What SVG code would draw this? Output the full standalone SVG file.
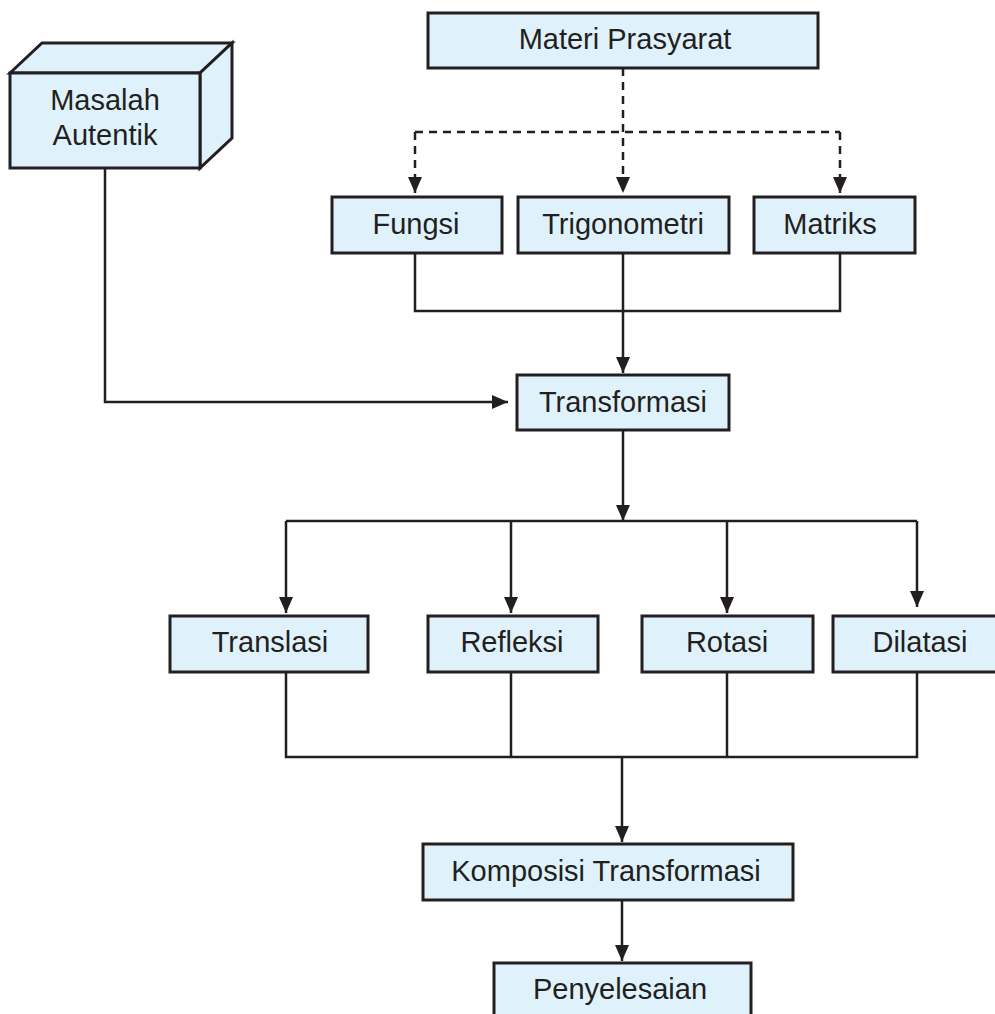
<svg xmlns="http://www.w3.org/2000/svg" width="995" height="1014" viewBox="0 0 995 1014">
<style>
.box{fill:#dff2fb;stroke:#231f20;stroke-width:3}
.t{font-family:"Liberation Sans",Arial,sans-serif;font-size:29px;fill:#231f20;text-anchor:middle}
.c{fill:none;stroke:#231f20;stroke-width:2.5}
.d{stroke-dasharray:8 6}
</style>
<defs>
<marker id="ah" markerUnits="userSpaceOnUse" markerWidth="16" markerHeight="14" viewBox="0 0 16 14" refX="16" refY="7" orient="auto">
<path d="M0,0 L16,7 L0,14 Z" fill="#231f20"/>
</marker>
</defs>
<rect width="995" height="1014" fill="#fff"/>
<g id="connectors">
<path class="c d" d="M623,68 V193" marker-end="url(#ah)"/>
<path class="c d" d="M415,132 H840"/>
<path class="c d" d="M415,132 V193" marker-end="url(#ah)"/>
<path class="c d" d="M840,132 V193" marker-end="url(#ah)"/>
<path class="c" d="M415,252 V311 H840 V252"/>
<path class="c" d="M623,252 V373" marker-end="url(#ah)"/>
<path class="c" d="M105,168 V402 H508" marker-end="url(#ah)"/>
<path class="c" d="M623,430 V521" marker-end="url(#ah)"/>
<path class="c" d="M286,521 H917"/>
<path class="c" d="M286,521 V613" marker-end="url(#ah)"/>
<path class="c" d="M511,521 V613" marker-end="url(#ah)"/>
<path class="c" d="M727,521 V613" marker-end="url(#ah)"/>
<path class="c" d="M917,521 V607" marker-end="url(#ah)"/>
<path class="c" d="M286,672 V757 H917 V672"/>
<path class="c" d="M511,672 V757"/>
<path class="c" d="M727,672 V757"/>
<path class="c" d="M622,757 V842" marker-end="url(#ah)"/>
<path class="c" d="M622,900 V961" marker-end="url(#ah)"/>
</g>
<g id="masalah">
<polygon class="box" points="10,73 42,43 232,43 200,73"/>
<polygon class="box" points="200,73 232,43 232,138 200,168"/>
<rect class="box" x="10" y="73" width="190" height="95"/>
<text class="t" x="105" y="110">Masalah</text>
<text class="t" x="105" y="145">Autentik</text>
</g>
<g id="materi"><rect class="box" x="428" y="13" width="390" height="55"/><text class="t" x="625" y="49">Materi Prasyarat</text></g>
<g id="fungsi"><rect class="box" x="332" y="197" width="170" height="56"/><text class="t" x="416" y="234">Fungsi</text></g>
<g id="trigonometri"><rect class="box" x="518" y="197" width="211" height="56"/><text class="t" x="623" y="234">Trigonometri</text></g>
<g id="matriks"><rect class="box" x="754" y="197" width="161" height="56"/><text class="t" x="830" y="234">Matriks</text></g>
<g id="transformasi"><rect class="box" x="517" y="375" width="212" height="55"/><text class="t" x="623" y="412">Transformasi</text></g>
<g id="translasi"><rect class="box" x="170" y="616" width="198" height="56"/><text class="t" x="270" y="652">Translasi</text></g>
<g id="refleksi"><rect class="box" x="428" y="616" width="170" height="56"/><text class="t" x="512" y="652">Refleksi</text></g>
<g id="rotasi"><rect class="box" x="642" y="616" width="171" height="56"/><text class="t" x="727" y="652">Rotasi</text></g>
<g id="dilatasi"><rect class="box" x="833" y="616" width="172" height="56"/><text class="t" x="920" y="652">Dilatasi</text></g>
<g id="komposisi"><rect class="box" x="423" y="844" width="370" height="56"/><text class="t" x="606" y="881">Komposisi Transformasi</text></g>
<g id="penyelesaian"><rect class="box" x="494" y="963" width="257" height="60"/><text class="t" x="620" y="999">Penyelesaian</text></g>
</svg>
